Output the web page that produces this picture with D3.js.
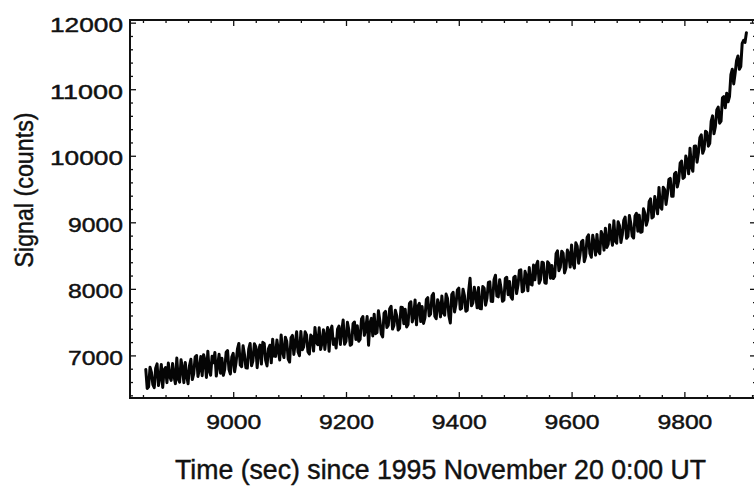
<!DOCTYPE html>
<html>
<head>
<meta charset="utf-8">
<script src="https://cdn.jsdelivr.net/npm/d3@7"></script>
<style>
  html, body { margin: 0; padding: 0; background: #fff; }
  svg { display: block; }
  text { font-family: "Liberation Sans", Arial, Helvetica, sans-serif; fill: #111; stroke: #111; stroke-width: 0.45px; }
</style>
</head>
<body>
<svg id="chart" width="754" height="486"></svg>
<script>
// ---- data: samples on whole 5-s steps ----
const timeSec = [
  8845, 8850, 8855, 8860, 8865, 8870, 8875, 8880, 8885, 8890,
  8895, 8900, 8905, 8910, 8915, 8920, 8925, 8930, 8935, 8940,
  8945, 8950, 8955, 8960, 8965, 8970, 8975, 8980, 8985, 8990,
  8995, 9000, 9005, 9010, 9015, 9020, 9025, 9030, 9035, 9040,
  9045, 9050, 9055, 9060, 9065, 9070, 9075, 9080, 9085, 9090,
  9095, 9100, 9105, 9110, 9115, 9120, 9125, 9130, 9135, 9140,
  9145, 9150, 9155, 9160, 9165, 9170, 9175, 9180, 9185, 9190,
  9195, 9200, 9205, 9210, 9215, 9220, 9225, 9230, 9235, 9240,
  9245, 9250, 9255, 9260, 9265, 9270, 9275, 9280, 9285, 9290,
  9295, 9300, 9305, 9310, 9315, 9320, 9325, 9330, 9335, 9340,
  9345, 9350, 9355, 9360, 9365, 9370, 9375, 9380, 9385, 9390,
  9395, 9400, 9405, 9410, 9415, 9420, 9425, 9430, 9435, 9440,
  9445, 9450, 9455, 9460, 9465, 9470, 9475, 9480, 9485, 9490,
  9495, 9500, 9505, 9510, 9515, 9520, 9525, 9530, 9535, 9540,
  9545, 9550, 9555, 9560, 9565, 9570, 9575, 9580, 9585, 9590,
  9595, 9600, 9605, 9610, 9615, 9620, 9625, 9630, 9635, 9640,
  9645, 9650, 9655, 9660, 9665, 9670, 9675, 9680, 9685, 9690,
  9695, 9700, 9705, 9710, 9715, 9720, 9725, 9730, 9735, 9740,
  9745, 9750, 9755, 9760, 9765, 9770, 9775, 9780, 9785, 9790,
  9795, 9800, 9805, 9810, 9815, 9820, 9825, 9830, 9835, 9840,
  9845, 9850, 9855, 9860, 9865, 9870, 9875, 9880, 9885, 9890,
  9895, 9900, 9905, 9910
];
const signalCounts = [
  6790, 6528, 6746, 6515, 6873, 6671, 6519, 6817, 6885, 6624,
  6692, 6960, 6598, 6807, 6895, 6574, 6942, 6721, 6999, 6798,
  6696, 6925, 7063, 6702, 6890, 6689, 7017, 6956, 6794, 7073,
  6721, 7030, 6890, 7180, 6830, 7010, 6810, 7180, 6920, 7130,
  7070, 6870, 7181, 6842, 7153, 7244, 6985, 7066, 7307, 6968,
  7209, 6900, 7300, 7180, 7050, 7360, 7130, 7310, 7020, 7280,
  7420, 7160, 7088, 7386, 7294, 7062, 7440, 7248, 7396, 7164,
  7532, 7210, 7384, 7168, 7502, 7446, 7240, 7584, 7398, 7152,
  7556, 7620, 7343, 7526, 7279, 7662, 7455, 7738, 7451, 7594,
  7407, 7720, 7692, 7464, 7806, 7588, 7460, 7782, 7734, 7566,
  7868, 7620, 7931, 7552, 7763, 7894, 7605, 7856, 7487, 7948,
  7769, 8010, 7710, 7900, 7680, 8160, 7790, 7910, 8020, 7700,
  8010, 7860, 8105, 7810, 8205, 7880, 8005, 7830, 8175, 8110,
  7845, 8190, 8058, 8286, 7974, 8192, 8320, 8058, 8136, 8414,
  8142, 8390, 8084, 8378, 8352, 8186, 8570, 8324, 8538, 8312,
  8526, 8660, 8312, 8644, 8516, 8728, 8490, 8812, 8474, 8686,
  8818, 8530, 8801, 8912, 8673, 8774, 9025, 8686, 8947, 8818,
  9079, 8790, 8982, 8764, 9136, 9108, 8860, 9134, 9038, 9352,
  9086, 9280, 9524, 9198, 9492, 9426, 9660, 9390, 9750, 9630,
  9920, 9680, 9922, 10114, 9766, 10148, 10050, 10314, 10098, 10352,
  10186, 10600, 10440, 10730, 10520, 10890, 10940, 10890, 11300, 11240,
  11500, 11340, 11735, 11850
];
// ---- data: samples on the half steps in between ----
const halfStepTime = [
  8847.5, 8852.5, 8857.5, 8862.5, 8867.5, 8872.5, 8877.5, 8882.5, 8887.5, 8892.5,
  8897.5, 8902.5, 8907.5, 8912.5, 8917.5, 8922.5, 8927.5, 8932.5, 8937.5, 8942.5,
  8947.5, 8952.5, 8957.5, 8962.5, 8967.5, 8972.5, 8977.5, 8982.5, 8987.5, 8992.5,
  8997.5, 9002.5, 9007.5, 9012.5, 9017.5, 9022.5, 9027.5, 9032.5, 9037.5, 9042.5,
  9047.5, 9052.5, 9057.5, 9062.5, 9067.5, 9072.5, 9077.5, 9082.5, 9087.5, 9092.5,
  9097.5, 9102.5, 9107.5, 9112.5, 9117.5, 9122.5, 9127.5, 9132.5, 9137.5, 9142.5,
  9147.5, 9152.5, 9157.5, 9162.5, 9167.5, 9172.5, 9177.5, 9182.5, 9187.5, 9192.5,
  9197.5, 9202.5, 9207.5, 9212.5, 9217.5, 9222.5, 9227.5, 9232.5, 9237.5, 9242.5,
  9247.5, 9252.5, 9257.5, 9262.5, 9267.5, 9272.5, 9277.5, 9282.5, 9287.5, 9292.5,
  9297.5, 9302.5, 9307.5, 9312.5, 9317.5, 9322.5, 9327.5, 9332.5, 9337.5, 9342.5,
  9347.5, 9352.5, 9357.5, 9362.5, 9367.5, 9372.5, 9377.5, 9382.5, 9387.5, 9392.5,
  9397.5, 9402.5, 9407.5, 9412.5, 9417.5, 9422.5, 9427.5, 9432.5, 9437.5, 9442.5,
  9447.5, 9452.5, 9457.5, 9462.5, 9467.5, 9472.5, 9477.5, 9482.5, 9487.5, 9492.5,
  9497.5, 9502.5, 9507.5, 9512.5, 9517.5, 9522.5, 9527.5, 9532.5, 9537.5, 9542.5,
  9547.5, 9552.5, 9557.5, 9562.5, 9567.5, 9572.5, 9577.5, 9582.5, 9587.5, 9592.5,
  9597.5, 9602.5, 9607.5, 9612.5, 9617.5, 9622.5, 9627.5, 9632.5, 9637.5, 9642.5,
  9647.5, 9652.5, 9657.5, 9662.5, 9667.5, 9672.5, 9677.5, 9682.5, 9687.5, 9692.5,
  9697.5, 9702.5, 9707.5, 9712.5, 9717.5, 9722.5, 9727.5, 9732.5, 9737.5, 9742.5,
  9747.5, 9752.5, 9757.5, 9762.5, 9767.5, 9772.5, 9777.5, 9782.5, 9787.5, 9792.5,
  9797.5, 9802.5, 9807.5, 9812.5, 9817.5, 9822.5, 9827.5, 9832.5, 9837.5, 9842.5,
  9847.5, 9852.5, 9857.5, 9862.5, 9867.5, 9872.5, 9877.5, 9882.5, 9887.5, 9892.5,
  9897.5, 9902.5, 9907.5
];
const halfStepSignal = [
  6504, 6822, 6561, 6809, 6547, 6865, 6783, 6591, 6680, 6878,
  6576, 6644, 6933, 6591, 6690, 6848, 6637, 6975, 6684, 6982,
  7011, 6669, 6768, 6986, 7045, 6853, 6732, 6700, 7049, 6787,
  6976, 6755, 7095, 6855, 7145, 6815, 7095, 6845, 7175, 6815,
  7155, 7196, 6927, 7098, 6889, 6990, 7231, 6932, 7053, 7274,
  6945, 7265, 7015, 7355, 6995, 7085, 7355, 7055, 7305, 7065,
  7195, 7414, 7192, 7090, 7418, 7376, 7164, 7112, 7440, 7368,
  7166, 7497, 7151, 7475, 7239, 7213, 7547, 7301, 7585, 7489,
  7293, 7327, 7670, 7323, 7636, 7419, 7702, 7395, 7678, 7381,
  7724, 7476, 7428, 7780, 7502, 7834, 7736, 7508, 7480, 7842,
  7594, 7896, 7587, 7838, 7579, 7640, 7921, 7592, 7913, 7654,
  7985, 7695, 7995, 7665, 7965, 7745, 8025, 7715, 7705, 8035,
  7755, 8098, 7813, 8138, 7893, 8138, 7813, 8158, 7913, 7878,
  8173, 7929, 8277, 7955, 8263, 7971, 8069, 8357, 8355, 8083,
  8401, 8092, 8406, 8160, 8154, 8528, 8272, 8566, 8240, 8584,
  8328, 8381, 8693, 8385, 8707, 8409, 8771, 8533, 8805, 8507,
  8569, 8861, 8582, 8623, 8964, 8655, 8716, 9007, 8698, 9029,
  8760, 9101, 8793, 9095, 8867, 8849, 9202, 8956, 9310, 9064,
  9388, 9127, 9231, 9525, 9269, 9643, 9390, 9730, 9530, 9890,
  9660, 9996, 9728, 9830, 10142, 9904, 10272, 10036, 10370, 10144,
  10518, 10330, 10690, 10490, 10870, 10720, 10810, 11220, 11080, 11430,
  11300, 11688, 11703
];
const xMajorTicks = [9000, 9200, 9400, 9600, 9800];
const yMajorTicks = [7000, 8000, 9000, 10000, 11000, 12000];
const xTitle = "Time (sec) since 1995 November 20 0:00 UT";
const yTitle = "Signal (counts)";

(function draw() {
  const svg = d3.select("#chart");
  const mLeft = 130, mRight = 756, mTop = 20, mBottom = 398;

  const x = d3.scaleLinear().domain([8817, 9927]).range([mLeft, mRight]);
  const y = d3.scaleLinear().domain([6360, 12040]).range([mBottom, mTop]);

  const xMinor = d3.range(8840, 9927, 40).filter(v => !xMajorTicks.includes(v));
  const yMinor = d3.range(6400, 12040, 200).filter(v => !yMajorTicks.includes(v));

  const axisStyle = g => {
    g.select(".domain").remove();
    g.selectAll(".tick line").attr("stroke", "#111").attr("stroke-width", 1.3);
  };

  // minor ticks
  svg.append("g").attr("transform", `translate(${mLeft},0)`)
    .call(d3.axisLeft(y).tickValues(yMinor).tickSize(-3).tickFormat(""))
    .call(axisStyle);
  svg.append("g").attr("transform", `translate(${mRight},0)`)
    .call(d3.axisRight(y).tickValues(yMinor).tickSize(-3).tickFormat(""))
    .call(axisStyle);
  svg.append("g").attr("transform", `translate(0,${mBottom})`)
    .call(d3.axisBottom(x).tickValues(xMinor).tickSize(-3).tickFormat(""))
    .call(axisStyle);
  svg.append("g").attr("transform", `translate(0,${mTop})`)
    .call(d3.axisTop(x).tickValues(xMinor).tickSize(-3).tickFormat(""))
    .call(axisStyle);

  // major ticks + labels
  const yAx = svg.append("g").attr("transform", `translate(${mLeft},0)`)
    .call(d3.axisLeft(y).tickValues(yMajorTicks).tickSize(-6).tickPadding(7).tickFormat(d3.format("d")))
    .call(axisStyle);
  yAx.selectAll(".tick text")
    .attr("font-size", 21)
    .attr("dy", "0.42em")
    .attr("textLength", d => String(d).length === 5 ? 73 : 55)
    .attr("lengthAdjust", "spacingAndGlyphs");

  svg.append("g").attr("transform", `translate(${mRight},0)`)
    .call(d3.axisRight(y).tickValues(yMajorTicks).tickSize(-6).tickFormat(""))
    .call(axisStyle);

  const xAx = svg.append("g").attr("transform", `translate(0,${mBottom})`)
    .call(d3.axisBottom(x).tickValues(xMajorTicks).tickSize(-6).tickFormat(d3.format("d")))
    .call(axisStyle);
  xAx.selectAll(".tick text")
    .attr("font-size", 21)
    .attr("y", 31)
    .attr("dy", null)
    .attr("textLength", 55)
    .attr("lengthAdjust", "spacingAndGlyphs");

  svg.append("g").attr("transform", `translate(0,${mTop})`)
    .call(d3.axisTop(x).tickValues(xMajorTicks).tickSize(-6).tickFormat(""))
    .call(axisStyle);

  // frame
  svg.append("rect")
    .attr("x", mLeft).attr("y", mTop)
    .attr("width", mRight - mLeft).attr("height", mBottom - mTop)
    .attr("fill", "none").attr("stroke", "#111").attr("stroke-width", 2);

  // merge the two sample sets in time order
  const pts = [];
  timeSec.forEach((t, i) => {
    pts.push([t, signalCounts[i]]);
    if (i < halfStepTime.length) pts.push([halfStepTime[i], halfStepSignal[i]]);
  });

  svg.append("path")
    .datum(pts)
    .attr("fill", "none")
    .attr("stroke", "#050505")
    .attr("stroke-width", 3)
    .attr("stroke-linejoin", "round")
    .attr("stroke-linecap", "round")
    .attr("d", d3.line().x(d => x(d[0])).y(d => y(d[1])));

  // titles
  svg.append("text")
    .attr("x", 440.5).attr("y", 479)
    .attr("text-anchor", "middle")
    .attr("font-size", 27)
    .attr("textLength", 531)
    .attr("lengthAdjust", "spacingAndGlyphs")
    .text(xTitle);

  svg.append("text")
    .attr("transform", "translate(33,190) rotate(-90)")
    .attr("text-anchor", "middle")
    .attr("font-size", 26)
    .attr("textLength", 155)
    .attr("lengthAdjust", "spacingAndGlyphs")
    .text(yTitle);
})();
</script>
</body>
</html>
